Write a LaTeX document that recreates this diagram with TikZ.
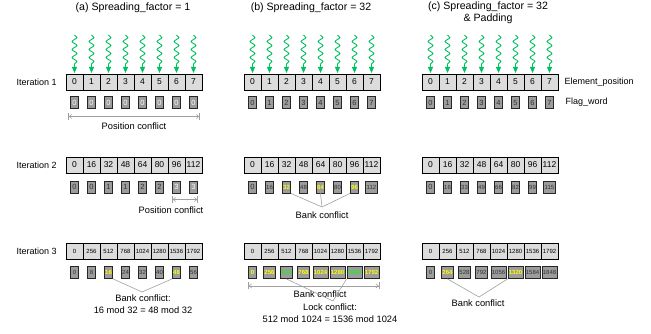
\documentclass[tikz,border=0pt]{standalone}
\usepackage{fontspec}
\setmainfont{Liberation Sans}
\usepackage{tikz}
\usetikzlibrary{arrows.meta,decorations.pathmorphing,calc}
\definecolor{cellgray}{HTML}{DCDCDC}
\definecolor{flaggray}{HTML}{9C9C9C}
\definecolor{waveG}{HTML}{00C060}
\definecolor{hitY}{HTML}{FFFF00}
\definecolor{hitG}{HTML}{22EE22}
\definecolor{confgray}{HTML}{A0A0A0}

\begin{document}
\begin{tikzpicture}[
  x=1pt, y=-1pt,
  cell/.style={draw, fill=cellgray, line width=0.7pt, minimum width=17pt,
    minimum height=16pt, inner sep=0pt, font=\fontsize{8.5}{9}\selectfont},
  cellsm/.style={cell, font=\fontsize{6}{7}\selectfont},
  flag/.style={draw=black!85, fill=flaggray, line width=0.9pt, minimum width=8pt,
    minimum height=12pt, inner sep=0.8pt, text=black!80,
    font=\fontsize{7.5}{8}\selectfont},
  flagsm/.style={flag, font=\fontsize{6}{6}\selectfont},
  hit/.style={text=#1, font=\fontsize{6}{6}\selectfont\bfseries},
  wave/.style={waveG, line width=0.9pt, decorate,
    decoration={snake, amplitude=2.4pt, segment length=8pt, post length=7pt},
    -{Triangle[length=6pt, width=5pt]}},
  dimline/.style={confgray, line width=0.6pt,
    {Bar[width=7pt]Straight Barb[length=2.5pt, width=4pt]}-{Straight Barb[length=2.5pt, width=4pt]Bar[width=7pt]}},
  conf/.style={confgray, line width=0.6pt},
  title/.style={font=\fontsize{10.6}{12}\selectfont, align=center},
  rowlab/.style={font=\fontsize{9}{10}\selectfont, anchor=west},
  note/.style={font=\fontsize{9.3}{12.5}\selectfont, align=center},
]
  \useasboundingbox (0,0) rectangle (651,334);

  % Panel titles
  \node[title] (ta) at (133, 8) {(a) Spreading\_factor = 1};
  \node[title] (tb) at (311, 8) {(b) Spreading\_factor = 32};
  \node[title] (tc) at (488, 13) {(c) Spreading\_factor = 32\\\& Padding};

  % Row labels
  \node[rowlab] (it1) at (13, 82) {Iteration 1};
  \node[rowlab] (it2) at (13, 165) {Iteration 2};
  \node[rowlab] (it3) at (13, 251) {Iteration 3};
  \node[rowlab] (elab) at (561, 82) {Element\_position};
  \node[rowlab] (flab) at (562, 102) {Flag\_word};

  % Element positions and incoming threads
  \foreach \p/\x in {a/66, b/244, c/422} {
    \foreach \i in {0,...,7} {
      \pgfmathtruncatemacro\vtwo{16*\i}
      \pgfmathtruncatemacro\vthree{256*\i}
      \draw[wave] (\x+\i*17+8.5, 35) -- (\x+\i*17+8.5, 73);
      \node[cell] (\p1c\i) at (\x+\i*17+8.5, 82) {\i};
      \node[cell] (\p2c\i) at (\x+\i*17+8.5, 165) {\vtwo};
      \node[cellsm] (\p3c\i) at (\x+\i*17+8.5, 251) {\vthree};
    }
  }

  % Flag words, iteration 1
  \foreach \i in {0,...,7} {
    \node[flag, text=white] (a1f\i) at (66+\i*17+8.5, 102.5) {0};
    \node[flag] (b1f\i) at (244+\i*17+8.5, 102.5) {\i};
    \node[flag] (c1f\i) at (422+\i*17+8.5, 102.5) {\i};
  }

  % Flag words, iteration 2
  \foreach \i/\v/\col in {0/0/black!80, 1/0/black!80, 2/1/black!80, 3/1/black!80,
    4/2/black!80, 5/2/black!80, 6/3/white, 7/3/white} {
    \node[flag, text=\col] (a2f\i) at (66+\i*17+8.5, 187) {\v};
  }
  \foreach \i/\v in {1/16, 3/48, 5/80, 7/112} {
    \node[flagsm] (b2f\i) at (244+\i*17+8.5, 187) {\v};
  }
  \foreach \i/\v in {2/32, 4/64, 6/96} {
    \node[flagsm, hit=hitY] (b2f\i) at (244+\i*17+8.5, 187) {\v};
  }
  \node[flag] (b2f0) at (244+8.5, 187) {0};
  \foreach \i/\v in {1/16, 2/33, 3/49, 4/66, 5/82, 6/99, 7/115} {
    \node[flagsm] (c2f\i) at (422+\i*17+8.5, 187) {\v};
  }
  \node[flag] (c2f0) at (422+8.5, 187) {0};

  % Flag words, iteration 3
  \foreach \i/\v in {0/0, 1/8, 3/24, 4/32, 5/40, 7/56} {
    \node[flagsm] (a3f\i) at (66+\i*17+8.5, 272.5) {\v};
  }
  \foreach \i/\v in {2/16, 6/48} {
    \node[flagsm, hit=hitY] (a3f\i) at (66+\i*17+8.5, 272.5) {\v};
  }
  \foreach \i/\v/\col in {0/0/hitY, 1/256/hitY, 2/512/hitG, 3/768/hitY,
    4/1024/hitY, 5/1280/hitY, 6/1536/hitG, 7/1792/hitY} {
    \node[flagsm, hit=\col] (b3f\i) at (244+\i*17+8.5, 272.5) {\v};
  }
  \foreach \i/\v in {0/0, 2/528, 3/792, 4/1056, 6/1584, 7/1848} {
    \node[flagsm] (c3f\i) at (422+\i*17+8.5, 272.5) {\v};
  }
  \foreach \i/\v in {1/264, 5/1320} {
    \node[flagsm, hit=hitY] (c3f\i) at (422+\i*17+8.5, 272.5) {\v};
  }

  % Position conflicts
  \coordinate (a1l) at ([xshift=-2pt, yshift=-7.5pt]a1f0.south west);
  \coordinate (a1r) at ([xshift=2pt, yshift=-7.5pt]a1f7.south east);
  \draw[dimline] (a1l) -- (a1r);
  \node[note] (a1pc) at (134, 126) {Position conflict};

  \coordinate (a2l) at ([yshift=-6pt]a2f6.south west);
  \coordinate (a2r) at ([yshift=-6pt]a2f7.south east);
  \draw[dimline] (a2l) -- (a2r);
  \node[note] (a2pc) at (171, 210) {Position conflict};

  % Bank conflicts
  \coordinate (b2v) at (322, 207);
  \draw[conf] (b2f2.south east) -- (b2v) -- (b2f6.south west);
  \draw[conf] (b2f4.south) -- (b2v);
  \node[note] (b2bc) at (322, 215) {Bank conflict};

  \coordinate (a3v) at (142, 292);
  \draw[conf] (a3f2.south east) -- (a3v) -- (a3f6.south west);
  \node[note] (a3bc) at (143, 304) {Bank conflict:\\16 mod 32 = 48 mod 32};

  \coordinate (b3l) at ([yshift=-7pt]b3f0.south west);
  \coordinate (b3r) at ([yshift=-7pt]b3f7.south east);
  \draw[dimline] (b3l) -- (b3r);
  \node[note] (b3bc) at (320, 294) {Bank conflict};
  \coordinate (b3v) at (333, 301);
  \draw[conf] (b3f2.south) -- (b3v) -- (b3f6.south west);
  \node[note] (b3lc) at (330, 313) {Lock conflict:\\512 mod 1024 = 1536 mod 1024};

  \coordinate (c3v) at (479, 297);
  \draw[conf] (c3f1.south) -- (c3v) -- (c3f5.south west);
  \node[note] (c3bc) at (478, 303) {Bank conflict};
\end{tikzpicture}
\end{document}
